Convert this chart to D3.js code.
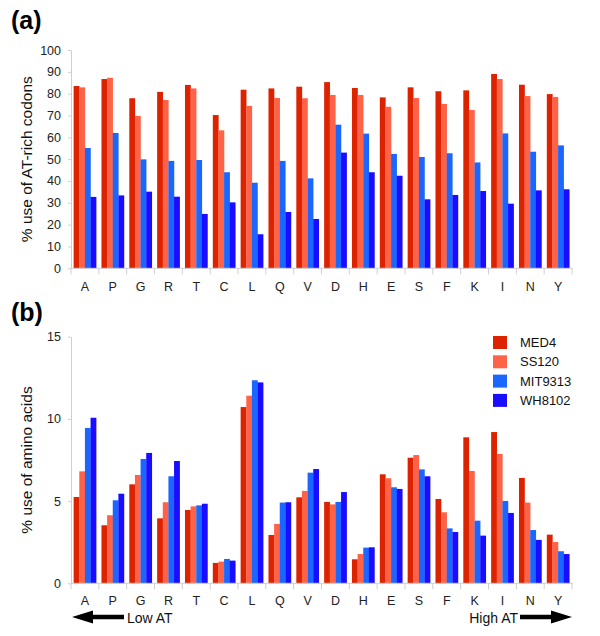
<!DOCTYPE html>
<html>
<head>
<meta charset="utf-8">
<script src="https://cdn.jsdelivr.net/npm/d3@7"></script>
<style>
    body { margin: 0; background: #fff; }
    svg { display: block; font-family: "Liberation Sans", Arial, Helvetica, sans-serif; }
    .axis path, .axis line { stroke: #cfcfcf; }
    .axis text { fill: #222; font-size: 12.5px; }
</style>
</head>
<body>
<div id="main"></div>
<script>
const ctx = {
    w: 600,
    h: 636,
    left: 71,
    right: 572,
};

const aminoAcids = ["A","P","G","R","T","C","L","Q","V","D","H","E","S","F","K","I","N","Y"];
const strains = ["MED4", "SS120", "MIT9313", "WH8102"];
const strainColors = ["#dd2200", "#ff6347", "#1a66ff", "#1a0dff"];

// (a) % use of AT-rich codons
const med4Codon    = [83.5,86.7,77.9,80.8,84.0,70.2,81.8,82.4,83.2,85.3,82.6,78.3,82.9,81.1,81.5,89.0,84.1,79.8];
const ss120Codon   = [82.9,87.3,69.8,77.1,82.4,63.2,74.4,78.0,77.9,79.4,79.4,74.0,78.0,75.3,72.5,86.7,78.9,78.5];
const mit9313Codon = [55.1,62.0,49.9,49.2,49.6,44.0,39.2,49.2,41.2,65.8,61.7,52.4,51.0,52.7,48.5,61.8,53.4,56.3];
const wh8102Codon  = [32.7,33.4,35.1,32.8,24.9,30.2,15.6,25.8,22.6,53.0,44.0,42.4,31.6,33.6,35.4,29.6,35.7,36.2];
const codonTicks = [0,10,20,30,40,50,60,70,80,90,100];

// (b) % use of amino acids
const med4Aa    = [5.25,3.53,6.02,3.95,4.46,1.24,10.72,2.94,5.23,4.95,1.46,6.63,7.64,5.13,8.88,9.20,6.41,2.96];
const ss120Aa   = [6.81,4.14,6.59,4.93,4.68,1.32,11.41,3.61,5.62,4.80,1.78,6.39,7.80,4.32,6.83,7.87,4.91,2.51];
const mit9313Aa = [9.45,5.05,7.56,6.51,4.74,1.48,12.35,4.91,6.73,4.95,2.17,5.84,6.93,3.34,3.81,5.01,3.24,1.95];
const wh8102Aa  = [10.07,5.45,7.93,7.44,4.84,1.38,12.22,4.93,6.95,5.55,2.19,5.74,6.51,3.12,2.90,4.28,2.64,1.78];
const aaTicks = [0,5,10,15];

const color = d3.scaleOrdinal().domain(strains).range(strainColors);

const x0 = d3.scaleBand()
             .domain(aminoAcids)
             .range([ctx.left, ctx.right])
             .paddingInner(0.19)
             .paddingOuter(0.095);
const x1 = d3.scaleBand()
             .domain(strains)
             .range([0, x0.bandwidth()]);

function buildRows(series){
    // one row per amino acid, one value per strain
    return aminoAcids.map((aa, i) => ({
        aa: aa,
        values: strains.map((s, j) => ({strain: s, value: series[j][i]}))
    }));
}

function drawPanel(svg, opts){
    let y = d3.scaleLinear().domain([0, opts.max]).range([opts.bottom, opts.top]);
    let g = svg.append("g");

    // group boundary ticks under the x axis
    let bounds = aminoAcids.map((d) => x0(d) - x0.step() * x0.paddingInner() / 2);
    bounds.push(ctx.right);
    g.append("g")
     .attr("class", "axis")
     .selectAll("line")
     .data(bounds)
     .enter()
     .append("line")
     .attr("x1", (d) => d).attr("x2", (d) => d)
     .attr("y1", opts.bottom).attr("y2", opts.bottom + 6);

    let groups = g.append("g")
                  .selectAll("g")
                  .data(buildRows(opts.series))
                  .enter()
                  .append("g")
                  .attr("transform", (d) => `translate(${x0(d.aa)},0)`);
    groups.selectAll("rect")
          .data((d) => d.values)
          .enter()
          .append("rect")
          .attr("x", (d) => x1(d.strain))
          .attr("width", x1.bandwidth() + 0.2)
          .attr("y", (d) => y(d.value))
          .attr("height", (d) => opts.bottom - y(d.value))
          .attr("fill", (d) => color(d.strain));

    g.append("g")
     .attr("class", "axis")
     .attr("transform", `translate(${ctx.left},0)`)
     .call(d3.axisLeft(y).tickValues(opts.ticks).tickSize(3).tickSizeOuter(0).tickPadding(7))
     .call((a) => a.selectAll("text").style("font-size", "12.5px"));

    g.append("g")
     .attr("class", "axis")
     .attr("transform", `translate(0,${opts.bottom})`)
     .call(d3.axisBottom(x0).tickSize(0).tickPadding(opts.labelPad))
     .call((a) => a.select(".domain").attr("d", `M${ctx.left},0H${ctx.right + 1}`))
     .call((a) => a.selectAll("text").style("font-size", "12.5px").attr("fill", "#111"));

    svg.append("text")
       .attr("transform", `translate(32,${(opts.top + opts.bottom) / 2}) rotate(-90)`)
       .attr("text-anchor", "middle")
       .style("font-size", "15.5px")
       .attr("fill", "#111")
       .text(opts.title);

    svg.append("text")
       .attr("x", 11)
       .attr("y", opts.tagY)
       .style("font-size", "25px")
       .style("font-weight", "bold")
       .text(opts.tag);
}

function drawLegend(svg){
    let leg = svg.append("g")
                 .selectAll("g")
                 .data(strains)
                 .enter()
                 .append("g")
                 .attr("transform", (d, i) => `translate(493,${336 + i * 19.3})`);
    leg.append("rect")
       .attr("width", 14).attr("height", 13)
       .attr("fill", (d) => color(d));
    leg.append("text")
       .attr("x", 27).attr("y", 11)
       .style("font-size", "13px")
       .attr("fill", "#111")
       .text((d) => d);
}

function arrow(dir, xTail, xTip, yc){
    // block arrow: shaft plus triangular head
    let head = 21 * dir, hh = 6.5, sh = 2.3;
    let xb = xTip - head;
    return `M${xTail},${yc - sh}L${xb},${yc - sh}L${xb},${yc - hh}L${xTip},${yc}` +
           `L${xb},${yc + hh}L${xb},${yc + sh}L${xTail},${yc + sh}Z`;
}

function drawArrows(svg){
    let yc = 617;
    svg.append("path").attr("d", arrow(-1, 124, 72, yc)).attr("fill", "#000");
    svg.append("text").attr("x", 127).attr("y", 622.5)
       .style("font-size", "14px").attr("fill", "#111").text("Low AT");
    svg.append("path").attr("d", arrow(1, 520, 572, yc)).attr("fill", "#000");
    svg.append("text").attr("x", 518).attr("y", 622.5)
       .attr("text-anchor", "end")
       .style("font-size", "14px").attr("fill", "#111").text("High AT");
}

function createViz(){
    let svg = d3.select("#main").append("svg")
                .attr("width", ctx.w)
                .attr("height", ctx.h);
    drawPanel(svg, {
        series: [med4Codon, ss120Codon, mit9313Codon, wh8102Codon],
        max: 100, top: 50, bottom: 268.3, ticks: codonTicks, labelPad: 14,
        title: "% use of AT-rich codons", tag: "(a)", tagY: 29
    });
    drawPanel(svg, {
        series: [med4Aa, ss120Aa, mit9313Aa, wh8102Aa],
        max: 15, top: 336.7, bottom: 583.3, ticks: aaTicks, labelPad: 13,
        title: "% use of amino acids", tag: "(b)", tagY: 321
    });
    drawLegend(svg);
    drawArrows(svg);
}

createViz();
</script>
</body>
</html>
